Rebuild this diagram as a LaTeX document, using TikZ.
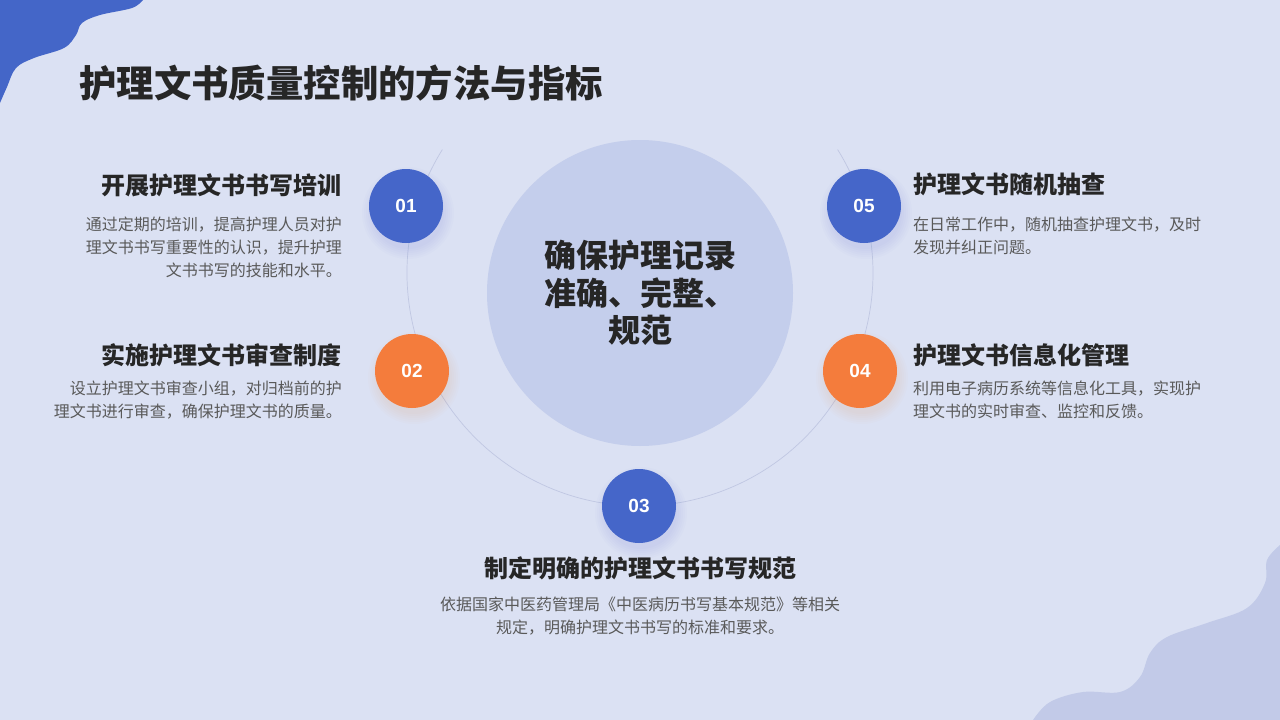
\documentclass[tikz,border=0pt]{standalone}
\usepackage{fontspec}
\setmainfont{Noto Sans CJK SC}
\newfontfamily\numfont{Liberation Sans}
\usepackage{tikz}
\usetikzlibrary{calc, positioning}
\definecolor{bgpale}{HTML}{DBE1F3}
\definecolor{hubfill}{HTML}{C4CEEC}
\definecolor{blobblue}{HTML}{4466C8}
\definecolor{blobpale}{HTML}{C2CAE8}
\definecolor{stepblue}{HTML}{4566C9}
\definecolor{steporange}{HTML}{F47C3C}
\definecolor{ringline}{HTML}{C0C7E2}
\definecolor{txtdark}{HTML}{262626}
\definecolor{txtgray}{HTML}{595959}
\tikzset{
  stepdisc/.style = {circle, fill=#1, minimum size=74pt, inner sep=0pt,
                     text=white, font=\numfont\bfseries\fontsize{19}{19}\selectfont},
  hubdisc/.style  = {circle, fill=hubfill, minimum size=306pt, inner sep=0pt,
                     text=txtdark, align=center,
                     font=\bfseries\fontsize{32}{37.5}\selectfont},
  headtxt/.style  = {font=\bfseries\fontsize{24}{28}\selectfont, text=txtdark, inner sep=0pt},
  desctxt/.style  = {font=\fontsize{16}{23}\selectfont, text=txtgray, inner sep=0pt},
}
% soft shadow under a numbered disc
\newcommand{\discshade}[2]{%
  \foreach \r in {36,38,...,46}
    \fill[#2, opacity=0.02] ($(#1)+(2,7)$) circle (\r pt);}

\begin{document}
\begin{tikzpicture}[x=1pt, y=-1pt]
  \fill[bgpale] (0,0) rectangle (1280,720);
  \useasboundingbox (0,0) rectangle (1280,720);
  % corner blobs
  \fill[blobblue] (0,0) -- plot[smooth, tension=0.6] coordinates {(143,0) (132,8) (100,15)
    (82,23) (76,35) (64,48) (34,58) (16,68) (7,87) (0,103)} -- cycle;
  \fill[blobpale] (1280,720) -- plot[smooth, tension=0.6] coordinates {(1280,545) (1267,560)
    (1265,583) (1247,608) (1207,623) (1167,637) (1150,653) (1140,677) (1120,692)
    (1083,692) (1050,702) (1033,720)} -- cycle;
  \node[headtxt, anchor=west, font=\bfseries\fontsize{37.4}{40}\selectfont] (title) at (79,83)
    {护理文书质量控制的方法与指标};
  \coordinate (ringc) at (640,273);
  \coordinate (P1) at (406,206);
  \coordinate (P2) at (412,371);
  \coordinate (P3) at (639,506);
  \coordinate (P4) at (860,371);
  \coordinate (P5) at (864,206);
  \draw[ringline, line width=0.7pt] ($(ringc)+(148:233pt)$) arc[start angle=148, end angle=392, radius=233pt];
  \node[hubdisc] (hub) at (640,293) {确保护理记录\\准确、完整、\\规范};
  \discshade{P1}{stepblue}
  \discshade{P2}{steporange}
  \discshade{P3}{stepblue}
  \discshade{P4}{steporange}
  \discshade{P5}{stepblue}
  \node[stepdisc=stepblue] (n01) at (P1) {01};
  \node[stepdisc=steporange] (n02) at (P2) {02};
  \node[stepdisc=stepblue] (n03) at (P3) {03};
  \node[stepdisc=steporange] (n04) at (P4) {04};
  \node[stepdisc=stepblue] (n05) at (P5) {05};
  % left column
  \node[headtxt, anchor=east] (h01) at (342,185) {开展护理文书书写培训};
  \node[desctxt, anchor=east, align=right] (d01) at (342,247)
    {通过定期的培训，提高护理人员对护\\理文书书写重要性的认识，提升护理\\文书书写的技能和水平。};
  \node[headtxt, anchor=east] (h02) at (342,355) {实施护理文书审查制度};
  \node[desctxt, anchor=east, align=right] (d02) at (342,400)
    {设立护理文书审查小组，对归档前的护\\理文书进行审查，确保护理文书的质量。};
  % right column
  \node[headtxt, anchor=west] (h05) at (913,184) {护理文书随机抽查};
  \node[desctxt, anchor=west, align=left] (d05) at (913,236)
    {在日常工作中，随机抽查护理文书，及时\\发现并纠正问题。};
  \node[headtxt, anchor=west] (h04) at (913,355) {护理文书信息化管理};
  \node[desctxt, anchor=west, align=left] (d04) at (913,400)
    {利用电子病历系统等信息化工具，实现护\\理文书的实时审查、监控和反馈。};
  % bottom
  \node[headtxt] (h03) at (640,568) {制定明确的护理文书书写规范};
  \node[desctxt, align=center] (d03) at (640,616)
    {依据国家中医药管理局《中医病历书写基本规范》等相关\\规定，明确护理文书书写的标准和要求。};
\end{tikzpicture}
\end{document}
